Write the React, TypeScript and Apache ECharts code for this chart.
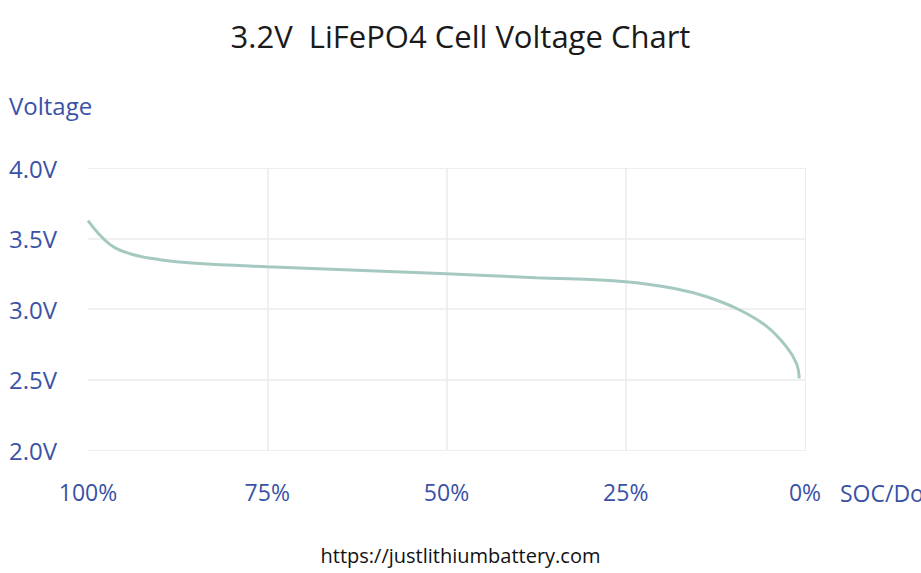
import React, { useEffect, useRef } from "react";
import * as echarts from "echarts";

const socPercent = [100, 97, 94, 90, 85, 75, 62.5, 50, 37.5, 25, 18.4, 13.7, 9.1, 5.3, 2.6, 1.2, 0.8];
const cellVoltage = [3.626, 3.46, 3.39, 3.35, 3.325, 3.3, 3.275, 3.25, 3.222, 3.194, 3.147, 3.087, 2.993, 2.875, 2.733, 2.615, 2.508];
const titleText = "3.2V  LiFePO4 Cell Voltage Chart";
const yName = "Voltage";
const xName = "SOC/DoD";
const footerText = "https://justlithiumbattery.com";

const BLUE = "#3a52a6";
const FONT = "'Open Sans', 'Noto Sans', sans-serif";

export default function App() {
  const ref = useRef<HTMLDivElement>(null);
  useEffect(() => {
    document.body.style.margin = "0";
    const chart = echarts.init(ref.current!, null, { renderer: "svg" });
    const grid = "#ebebeb";
    chart.setOption({
      animation: false,
      backgroundColor: "#ffffff",
      textStyle: { fontFamily: FONT },
      title: [
        {
          text: titleText,
          left: "center",
          top: 20,
          padding: 0,
          textStyle: { fontSize: 31, fontWeight: "normal", color: "#1a1a1a", fontFamily: FONT },
        },
        {
          text: yName,
          left: 9,
          top: 93,
          padding: 0,
          textStyle: { fontSize: 24, fontWeight: "normal", color: BLUE, fontFamily: FONT },
        },
        {
          text: footerText,
          left: "center",
          top: 545,
          padding: 0,
          textStyle: { fontSize: 20, fontWeight: "normal", color: "#111111", fontFamily: FONT },
        },
      ],
      grid: { left: 88, right: 116, top: 168, bottom: 123, containLabel: false, outerBoundsMode: "none" },
      xAxis: [
        {
          type: "value",
          min: 0,
          max: 100,
          interval: 25,
          inverse: true,
          name: xName,
          nameLocation: "start",
          nameGap: 35,
          nameTextStyle: { fontSize: 23, color: BLUE, verticalAlign: "top", align: "left", padding: [31, 0, 0, 0], fontFamily: FONT },
          axisLine: { show: true, lineStyle: { color: grid, type: "dotted", width: 1 } },
          axisTick: { show: false },
          axisLabel: { fontSize: 23, color: BLUE, margin: 30, formatter: (v: number) => `${v}%`, fontFamily: FONT },
          splitLine: { show: true, showMinLine: false, showMaxLine: false, lineStyle: { color: grid, width: 1.5 } },
        },
        {
          type: "value",
          min: 0,
          max: 100,
          interval: 25,
          inverse: true,
          position: "top",
          axisLine: { show: true, lineStyle: { color: grid, type: "dotted", width: 1 } },
          axisTick: { show: false },
          axisLabel: { show: false },
          splitLine: { show: false },
        },
      ],
      yAxis: [
        {
          type: "value",
          min: 2,
          max: 4,
          interval: 0.5,
          axisLine: { show: true, lineStyle: { color: grid, type: "dotted", width: 1 } },
          axisTick: { show: false },
          axisLabel: {
            fontSize: 24,
            color: BLUE,
            align: "left",
            margin: 79,
            formatter: (v: number) => `${v.toFixed(1)}V`,
            fontFamily: FONT,
          },
          splitLine: { show: true, showMinLine: false, showMaxLine: false, lineStyle: { color: grid, width: 1.5 } },
        },
        {
          type: "value",
          min: 2,
          max: 4,
          interval: 0.5,
          position: "right",
          axisLine: { show: true, lineStyle: { color: grid, type: "dotted", width: 1 } },
          axisTick: { show: false },
          axisLabel: { show: false },
          splitLine: { show: false },
        },
      ],
      series: [
        {
          type: "line",
          data: socPercent.map((s, i) => [s, cellVoltage[i]]),
          smooth: 0.4,
          showSymbol: false,
          lineStyle: { color: "#a5c9c1", width: 3 },
        },
      ],
    });
    return () => chart.dispose();
  }, []);
  return <div ref={ref} style={{ width: 921, height: 573 }} />;
}
